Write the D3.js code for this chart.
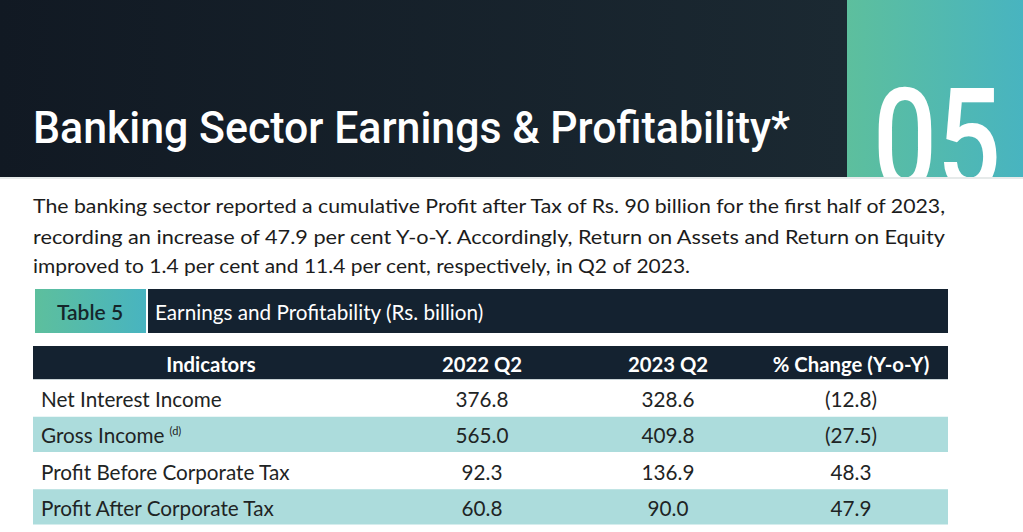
<!DOCTYPE html>
<html><head><meta charset="utf-8">
<script src="https://cdn.jsdelivr.net/npm/d3@7"></script>
<style>
html,body{margin:0;padding:0;background:#fff;}
svg{display:block;}
</style></head>
<body>
<script>
const sectionNumber = "05";
const title = "Banking Sector Earnings & Profitability*";
const paragraphLines = [
  "The banking sector reported a cumulative Profit after Tax of Rs. 90 billion for the first half of 2023,",
  "recording an increase of 47.9 per cent Y-o-Y. Accordingly, Return on Assets and Return on Equity",
  "improved to 1.4 per cent and 11.4 per cent, respectively, in Q2 of 2023."
];
const tableLabel = "Table 5";
const tableTitle = "Earnings and Profitability (Rs. billion)";
const columns = ["Indicators", "2022 Q2", "2023 Q2", "% Change (Y-o-Y)"];
const indicators = ["Net Interest Income", "Gross Income", "Profit Before Corporate Tax", "Profit After Corporate Tax"];
const indicatorNotes = ["", "(d)", "", ""];
const q2022 = [376.8, 565.0, 92.3, 60.8];
const q2023 = [328.6, 409.8, 136.9, 90.0];
const pctChange = [-12.8, -27.5, 48.3, 47.9];

const W = 1023, H = 532;
const svg = d3.select("body").append("svg").attr("width", W).attr("height", H);
const defs = svg.append("defs");

const gDark = defs.append("linearGradient").attr("id","gDark").attr("x1","0").attr("x2","1").attr("y1","0").attr("y2","0");
gDark.append("stop").attr("offset","0").attr("stop-color","#111923");
gDark.append("stop").attr("offset","1").attr("stop-color","#1b2932");
const gTeal = defs.append("linearGradient").attr("id","gTeal").attr("x1","0").attr("x2","1").attr("y1","0").attr("y2","0");
gTeal.append("stop").attr("offset","0").attr("stop-color","#5dbf9d");
gTeal.append("stop").attr("offset","1").attr("stop-color","#48b4c0");
defs.append("clipPath").attr("id","clipTop").append("rect").attr("x",0).attr("y",0).attr("width",W).attr("height",177);

// header band
svg.append("rect").attr("x",0).attr("y",0).attr("width",847).attr("height",177).attr("fill","url(#gDark)");
svg.append("rect").attr("x",847).attr("y",0).attr("width",W-847).attr("height",177).attr("fill","url(#gTeal)");
svg.append("rect").attr("x",0).attr("y",177).attr("width",W).attr("height",2).attr("fill","#e6eaea");

svg.append("text").attr("clip-path","url(#clipTop)")
  .attr("x",873).attr("y",190)
  .attr("font-family","Roboto").attr("font-weight",500).attr("font-size",142)
  .attr("fill","#fff").attr("textLength",128).attr("lengthAdjust","spacingAndGlyphs")
  .text(sectionNumber);

svg.append("text").attr("x",33).attr("y",143)
  .attr("font-family","Roboto").attr("font-weight",500).attr("font-size",45)
  .attr("fill","#fff").attr("textLength",757).attr("lengthAdjust","spacingAndGlyphs")
  .text(title);

// paragraph
const paraY = [213, 244, 273];
const paraLen = [912, 912, 657];
svg.selectAll("text.para").data(paragraphLines).join("text").attr("class","para")
  .attr("x",33).attr("y",(d,i)=>paraY[i])
  .attr("font-family","Lato").attr("font-size",19.5).attr("fill","#1c1c1c")
  .attr("textLength",(d,i)=>paraLen[i]).attr("lengthAdjust","spacingAndGlyphs")
  .text(d=>d);

// table title bar
const fs = 20.7;
svg.append("rect").attr("x",35).attr("y",289).attr("width",111).attr("height",44).attr("fill","url(#gTeal)");
svg.append("rect").attr("x",148).attr("y",289).attr("width",800).attr("height",44).attr("fill","#142230");
svg.append("text").attr("x",90).attr("y",320).attr("text-anchor","middle")
  .attr("font-family","Lato").attr("font-weight",600).attr("font-size",21).attr("fill","#15252a").text(tableLabel);
svg.append("text").attr("x",155).attr("y",320)
  .attr("font-family","Lato").attr("font-size",fs).attr("fill","#fff").text(tableTitle);

// table
const tableX0 = 33, tableX1 = 948;
const colCenter = d3.scaleOrdinal().domain(columns).range([211, 482, 668, 851]);
const rowScale = d3.scaleBand().domain(d3.range(indicators.length)).range([380, 525]);
const fmt = d3.format(".1f");
const fmtPct = v => v < 0 ? "(" + fmt(-v) + ")" : fmt(v);

svg.append("rect").attr("x",tableX0).attr("y",346).attr("width",tableX1-tableX0).attr("height",34).attr("fill","#142230");
svg.append("rect").attr("x",tableX0).attr("y",379).attr("width",tableX1-tableX0).attr("height",1).attr("fill","#c9d3d6");
svg.selectAll("text.colhead").data(columns).join("text").attr("class","colhead")
  .attr("x",d=>colCenter(d)).attr("y",372).attr("text-anchor","middle")
  .attr("font-family","Lato").attr("font-weight",700).attr("font-size",20.3).attr("fill","#fff")
  .text(d=>d);

const rows = svg.selectAll("g.row").data(indicators).join("g").attr("class","row")
  .attr("transform",(d,i)=>`translate(0,${rowScale(i)})`);
rows.append("rect").attr("x",tableX0).attr("y",0.5).attr("width",tableX1-tableX0).attr("height",rowScale.bandwidth()-1)
  .attr("fill",(d,i)=> i%2===1 ? "#acdcdc" : "#fff");
const ty = rowScale.bandwidth()/2 + 9;
const lab = rows.append("text").attr("x",41).attr("y",ty)
  .attr("font-family","Lato").attr("font-size",fs).attr("fill","#1e2424");
lab.append("tspan").text(d=>d);
lab.append("tspan").attr("font-size",11).attr("dx",5).attr("dy",-8).text((d,i)=>indicatorNotes[i]);
rows.append("text").attr("x",colCenter(columns[1])).attr("y",ty).attr("text-anchor","middle")
  .attr("font-family","Lato").attr("font-size",fs).attr("fill","#1e2424").text((d,i)=>fmt(q2022[i]));
rows.append("text").attr("x",colCenter(columns[2])).attr("y",ty).attr("text-anchor","middle")
  .attr("font-family","Lato").attr("font-size",fs).attr("fill","#1e2424").text((d,i)=>fmt(q2023[i]));
rows.append("text").attr("x",colCenter(columns[3])).attr("y",ty).attr("text-anchor","middle")
  .attr("font-family","Lato").attr("font-size",fs).attr("fill","#1e2424").text((d,i)=>fmtPct(pctChange[i]));
</script>
</body></html>
